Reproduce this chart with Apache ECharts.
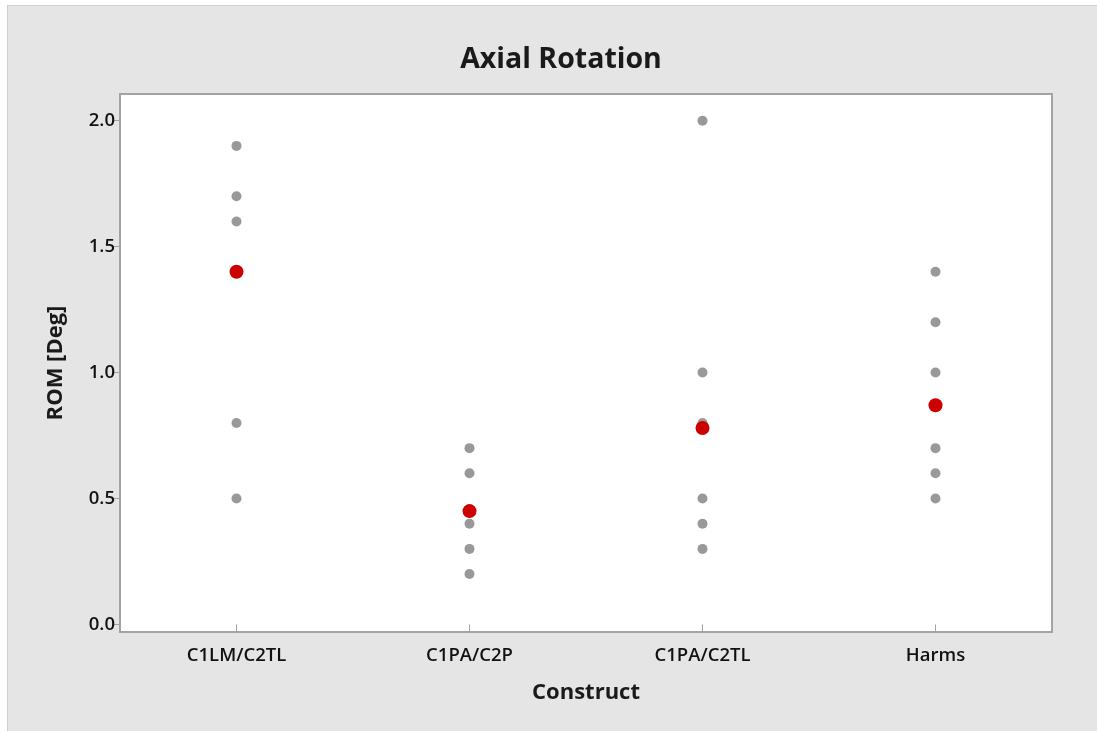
<!DOCTYPE html>
<html>
<head>
<meta charset="utf-8">
<title>Axial Rotation</title>
<script src="https://cdn.jsdelivr.net/npm/echarts@6/dist/echarts.min.js"></script>
<style>
  html, body { margin: 0; padding: 0; background: #ffffff; }
  #frame {
    position: absolute; left: 7px; top: 5px; width: 1090px; height: 726px;
    background: #e5e5e5; border-left: 1px solid #cfcfcf; border-top: 1px solid #cfcfcf;
    box-sizing: border-box;
  }
  #chart { position: absolute; left: 0; top: 0; width: 1097px; height: 731px; }
</style>
</head>
<body>
<div id="frame"></div>
<div id="chart"></div>
<script>
// Construct groups on the x axis
const constructs = ['C1LM/C2TL', 'C1PA/C2P', 'C1PA/C2TL', 'Harms'];

// Individual range-of-motion values per construct (degrees)
const c1lmC2tl = [1.9, 1.7, 1.6, 0.8, 0.5];
const c1paC2p  = [0.7, 0.6, 0.4, 0.3, 0.2];
const c1paC2tl = [2.0, 1.0, 0.8, 0.5, 0.4, 0.3];
const harms    = [1.4, 1.2, 1.0, 0.7, 0.6, 0.5];

// Group means (degrees)
const means = [1.40, 0.45, 0.78, 0.87];

// Y axis tick values
const yTicks = [0.0, 0.5, 1.0, 1.5, 2.0];

const groups = [c1lmC2tl, c1paC2p, c1paC2tl, harms];
const individualPoints = [];
groups.forEach((vals, i) => vals.forEach(v => individualPoints.push([i, v])));
const meanPoints = means.map((m, i) => [i, m]);

const FONT = '"Open Sans", "Noto Sans", sans-serif';

const chart = echarts.init(document.getElementById('chart'), null, { renderer: 'canvas' });
chart.setOption({
  backgroundColor: 'transparent',
  animation: false,
  title: {
    text: 'Axial Rotation',
    left: 556,
    top: 40,
    textAlign: 'center',
    textStyle: { fontFamily: FONT, fontSize: 28.5, fontWeight: 'bold', color: '#1a1a1a' }
  },
  grid: {
    left: 120, right: 45, top: 94, bottom: 99,
    show: true, backgroundColor: '#ffffff', borderColor: '#a3a3a3', borderWidth: 2
  },
  xAxis: {
    type: 'category',
    data: constructs,
    boundaryGap: true,
    name: 'Construct',
    nameLocation: 'middle',
    nameGap: 50,
    nameTextStyle: { fontFamily: FONT, fontSize: 22, fontWeight: 'bold', color: '#1a1a1a' },
    axisLine: { show: false },
    axisTick: { show: true, alignWithLabel: true, length: 7, lineStyle: { color: '#a3a3a3', width: 1 } },
    axisLabel: { fontFamily: FONT, fontSize: 18.5, fontWeight: 600, color: '#111111', margin: 14 },
    splitLine: { show: false }
  },
  yAxis: {
    type: 'value',
    min: -0.03,
    max: 2.106,
    name: 'ROM [Deg]',
    nameLocation: 'middle',
    nameGap: 53,
    nameTextStyle: { fontFamily: FONT, fontSize: 22, fontWeight: 'bold', color: '#1a1a1a' },
    axisLine: { show: false },
    axisTick: { show: true, customValues: yTicks, length: 7, lineStyle: { color: '#a3a3a3', width: 1 } },
    axisLabel: {
      customValues: yTicks,
      fontFamily: FONT, fontSize: 18.5, fontWeight: 600, color: '#111111', margin: 5,
      formatter: v => Number(v).toFixed(1)
    },
    splitLine: { show: false }
  },
  series: [
    {
      name: 'Individual',
      type: 'scatter',
      data: individualPoints,
      symbol: 'circle',
      symbolSize: 10,
      itemStyle: { color: '#999999', opacity: 1 },
      z: 2
    },
    {
      name: 'Mean',
      type: 'scatter',
      data: meanPoints,
      symbol: 'circle',
      symbolSize: 14,
      itemStyle: { color: '#cc0000', opacity: 1 },
      z: 3
    }
  ]
});
</script>
</body>
</html>
